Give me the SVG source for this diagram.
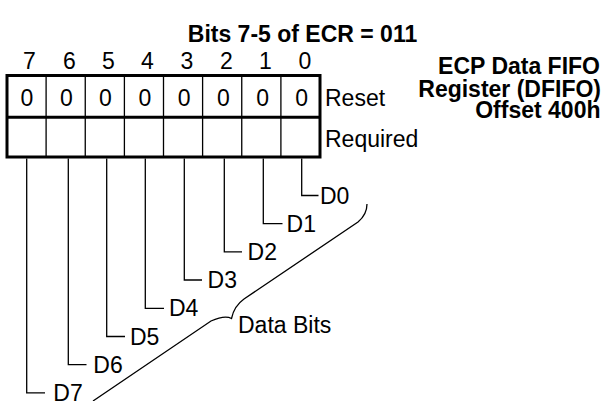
<svg xmlns="http://www.w3.org/2000/svg" width="604" height="401" viewBox="0 0 604 401">
<style>
text{font-family:"Liberation Sans",Arial,sans-serif;font-size:23px;fill:#000}
.b{font-weight:bold}
.m{text-anchor:middle}
.e{text-anchor:end}
.thick{fill:none;stroke:#000;stroke-width:3}
.thin{fill:none;stroke:#000;stroke-width:1.3}
</style>
<rect width="604" height="401" fill="#fff"/>
<text id="title" class="b m" x="302.5" y="41.7">Bits 7-5 of ECR = 011</text>
<g id="register-label">
<text class="b e" x="600" y="74.3">ECP Data FIFO</text>
<text class="b e" x="601" y="96.7">Register (DFIFO)</text>
<text class="b e" x="600.5" y="118.3">Offset 400h</text>
</g>
<g id="bit-numbers">
<text class="m" x="29.5" y="69">7</text>
<text class="m" x="69.5" y="69">6</text>
<text class="m" x="108.5" y="69">5</text>
<text class="m" x="147.5" y="69">4</text>
<text class="m" x="187" y="69">3</text>
<text class="m" x="226.5" y="69">2</text>
<text class="m" x="265.5" y="69">1</text>
<text class="m" x="305" y="69">0</text>
</g>
<g id="register">
<path class="thin" d="M46.1 75.5V157M85.25 75.5V157M124.4 75.5V157M163.5 75.5V157M202.6 75.5V157M241.75 75.5V157M280.9 75.5V157"/>
<rect class="thick" x="7" y="75.5" width="313" height="81.5"/>
<line class="thick" x1="7" y1="117.3" x2="320" y2="117.3"/>
<text class="m" x="27" y="105.5">0</text>
<text class="m" x="66.3" y="105.5">0</text>
<text class="m" x="105.5" y="105.5">0</text>
<text class="m" x="145" y="105.5">0</text>
<text class="m" x="184.2" y="105.5">0</text>
<text class="m" x="223.3" y="105.5">0</text>
<text class="m" x="262.7" y="105.5">0</text>
<text class="m" x="301.7" y="105.5">0</text>
<text x="325" y="106">Reset</text>
<text x="325" y="146.7">Required</text>
</g>
<g id="connectors">
<path class="thin" d="M26.7 158.5V392.9H45"/>
<path class="thin" d="M68.3 158.5V364.7H86.5"/>
<path class="thin" d="M106.7 158.5V336.5H125"/>
<path class="thin" d="M145.3 158.5V308.3H164"/>
<path class="thin" d="M184.3 158.5V280H202"/>
<path class="thin" d="M224.3 158.5V251.9H242"/>
<path class="thin" d="M263.3 158.5V223.7H282.5"/>
<path class="thin" d="M301.7 158.5V195.5H318.5"/>
<path id="brace" class="thin" d="M367 204C367 212 364 217 358 222L244 299C237 304 233 311 231.5 318.5C228 316.5 221 316.5 211 321L93 401"/>
</g>
<g id="bit-labels">
<text x="320" y="203.5">D0</text>
<text x="286.6" y="231.7">D1</text>
<text x="247.6" y="259.9">D2</text>
<text x="207.6" y="288">D3</text>
<text x="169" y="316.3">D4</text>
<text x="130" y="344.5">D5</text>
<text x="93.3" y="372.7">D6</text>
<text x="53.3" y="400.9">D7</text>
<text x="238" y="333.3">Data Bits</text>
</g>
</svg>
